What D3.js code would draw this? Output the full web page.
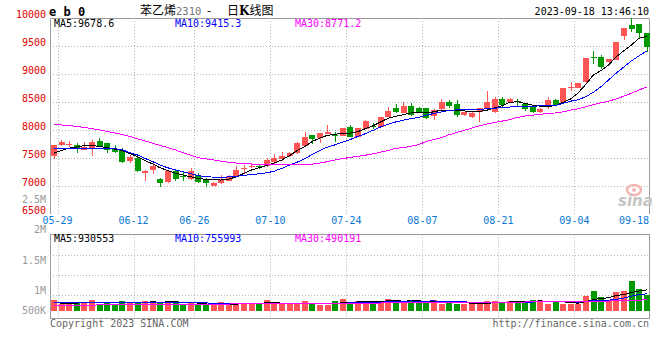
<!DOCTYPE html>
<html><head><meta charset="utf-8">
<script src="https://cdn.jsdelivr.net/npm/d3@7"></script>
<style>body{margin:0;background:#fff}svg{display:block}</style>
</head><body>
<svg id="c" width="660" height="360"></svg>
<script>
const dates = ["05-26","05-29","05-30","05-31","06-01","06-02","06-05","06-06","06-07","06-08","06-09","06-12","06-13","06-14","06-15","06-16","06-19","06-20","06-21","06-26","06-27","06-28","06-29","06-30","07-03","07-04","07-05","07-06","07-07","07-10","07-11","07-12","07-13","07-14","07-17","07-18","07-19","07-20","07-21","07-24","07-25","07-26","07-27","07-28","07-31","08-01","08-02","08-03","08-04","08-07","08-08","08-09","08-10","08-11","08-14","08-15","08-16","08-17","08-18","08-21","08-22","08-23","08-24","08-25","08-28","08-29","08-30","08-31","09-01","09-04","09-05","09-06","09-07","09-08","09-11","09-12","09-13","09-14","09-15"];
const open  = [7540,7730,7750,7730,7650,7670,7810,7775,7660,7650,7460,7500,7232,7292,7137,7083,7274,7190,7137,7196,7131,7006,7054,7101,7173,7310,7345,7355,7363,7441,7482,7548,7589,7726,7917,7869,7929,7920,7905,8054,7887,8024,8080,8065,8244,8399,8304,8440,8393,8390,8250,8375,8500,8464,8274,8232,8321,8393,8333,8560,8500,8530,8470,8423,8321,8423,8548,8512,8760,8762,8857,9310,9304,9214,9256,9684,9880,9899,9732];
const high  = [7745,7820,7815,7770,7790,7827,7870,7780,7740,7680,7560,7530,7285,7430,7155,7280,7305,7268,7320,7230,7140,7070,7200,7200,7363,7381,7411,7393,7500,7577,7607,7607,7790,7976,7920,7960,8101,7976,8050,8089,8050,8180,8137,8240,8423,8470,8512,8482,8420,8400,8380,8560,8540,8540,8330,8320,8400,8708,8600,8600,8570,8560,8470,8425,8390,8590,8560,8760,8857,8845,9290,9417,9345,9280,9580,9821,10000,9899,9732];
const low   = [7480,7720,7700,7590,7640,7550,7700,7590,7590,7420,7410,7260,7100,7220,6980,7065,7095,7101,7110,7060,6980,7000,7040,7095,7161,7232,7321,7316,7351,7399,7458,7530,7585,7726,7756,7780,7929,7798,7900,7887,7880,8020,8018,8060,8244,8304,8304,8250,8304,8200,8180,8363,8390,8244,8260,8220,8155,8390,8304,8423,8490,8423,8350,8304,8310,8381,8440,8500,8708,8755,8850,9185,9090,9200,9250,9613,9762,9625,9393];
const close = [7735,7790,7760,7680,7710,7786,7710,7640,7610,7440,7520,7280,7280,7363,7054,7274,7125,7170,7274,7071,7066,7066,7137,7185,7292,7333,7355,7345,7470,7512,7542,7589,7780,7887,7839,7952,7976,7910,8048,7887,8042,8173,8070,8232,8351,8333,8435,8274,8315,8220,8365,8512,8435,8274,8321,8304,8393,8512,8560,8452,8560,8520,8381,8333,8381,8548,8452,8750,8770,8839,9286,9296,9137,9274,9571,9821,9810,9732,9494];
const volume = [470000,320000,320000,340000,340000,470000,320000,340000,320000,430000,380000,380000,430000,380000,380000,430000,430000,250000,380000,250000,250000,250000,380000,320000,320000,340000,340000,340000,470000,300000,300000,300000,340000,430000,340000,250000,250000,430000,515000,380000,430000,430000,430000,430000,515000,430000,380000,470000,430000,430000,470000,320000,430000,320000,320000,320000,320000,430000,430000,380000,430000,430000,430000,470000,470000,320000,430000,320000,320000,320000,660000,870000,610000,440000,840000,880000,1300000,950000,690000];
const ma5  = [7590,7640,7680,7700,7726,7730,7712,7690,7665,7640,7585,7530,7460,7400,7330,7280,7235,7200,7170,7140,7125,7115,7112,7130,7165,7230,7290,7330,7370,7415,7470,7545,7635,7710,7800,7860,7910,7930,7945,7950,7975,8030,8080,8150,8215,8250,8280,8310,8315,8310,8330,8360,8360,8350,8345,8340,8335,8360,8400,8440,8500,8510,8480,8450,8430,8425,8440,8500,8560,8670,8820,8990,9066,9166,9313,9420,9523,9642,9679];
const ma10 = [7680,7675,7672,7670,7672,7676,7680,7678,7672,7655,7600,7560,7500,7440,7380,7330,7295,7262,7225,7190,7175,7163,7160,7168,7178,7195,7210,7222,7240,7270,7320,7380,7430,7490,7570,7640,7700,7740,7790,7835,7890,7940,8000,8060,8110,8150,8180,8210,8230,8270,8300,8330,8355,8365,8370,8375,8378,8382,8395,8405,8415,8425,8430,8432,8435,8440,8445,8480,8520,8545,8600,8680,8779,8900,9020,9130,9240,9330,9415];
const ma30 = [8105,8095,8085,8070,8050,8030,8006,7980,7955,7925,7890,7850,7810,7770,7730,7690,7650,7600,7555,7510,7490,7470,7450,7430,7415,7405,7398,7393,7390,7387,7385,7383,7382,7385,7395,7415,7440,7470,7495,7515,7535,7555,7580,7610,7640,7680,7690,7715,7745,7800,7835,7870,7920,7960,8000,8040,8080,8112,8140,8165,8190,8230,8255,8270,8285,8300,8310,8330,8360,8385,8420,8460,8490,8520,8560,8610,8660,8720,8771];
const volMa5  = [360000,350000,345000,350000,358000,358000,358000,362000,358000,376000,358000,370000,388000,400000,390000,400000,410000,374000,374000,348000,312000,276000,302000,290000,304000,322000,340000,332000,362000,358000,350000,342000,342000,334000,342000,332000,322000,340000,357000,365000,401000,437000,437000,420000,447000,447000,437000,445000,445000,428000,436000,424000,416000,394000,372000,342000,342000,342000,364000,376000,398000,420000,420000,428000,446000,424000,424000,402000,372000,342000,410000,498000,556000,580000,684000,728000,814000,882000,930553];
const volMa10 = [360000,358000,355000,352000,355000,360000,362000,365000,366000,367000,358000,364000,375000,379000,383000,379000,390000,381000,387000,369000,356000,343000,338000,332000,326000,317000,308000,317000,326000,331000,336000,341000,337000,348000,350000,341000,332000,341000,346000,354000,367000,380000,389000,389000,406000,424000,437000,441000,433000,438000,442000,431000,431000,420000,400000,389000,383000,379000,379000,374000,370000,381000,381000,396000,411000,411000,422000,411000,400000,394000,417000,461000,479000,476000,513000,569000,656000,719000,755993];
const volMa30 = [240000,244000,251000,254000,259000,262000,266000,267000,271000,274000,277000,279000,283000,286000,287000,291000,293000,295000,299000,300000,302000,305000,306000,307000,311000,312000,313000,316000,319000,320000,321000,325000,326000,328000,331000,333000,334000,336000,339000,341000,344000,345000,349000,352000,354000,357000,361000,363000,366000,370000,371000,373000,376000,378000,379000,382000,384000,385000,388000,390000,392000,393000,396000,398000,399000,402000,404000,405000,408000,411000,416000,425000,431000,440000,449000,461000,470000,481000,490191];
const priceTicks = [10000,9500,9000,8500,8000,7500,7000,6500];
const volTicks = [500000,1000000,1500000,2000000,2500000];
const volTickLabels = ["500K","1M","1.5M","2M","2.5M"];
const dateTicks = ["05-29","06-12","06-26","07-10","07-24","08-07","08-21","09-04","09-18"];
const legendMain = ["MA5:9678.6","MA10:9415.3","MA30:8771.2"];
const legendVol = ["MA5:930553","MA10:755993","MA30:490191"];
const maColors = ["#000000","#0000ff","#ff00ff"];

const svg = d3.select("#c");
const MONO = "'DejaVu Sans Mono', 'Liberation Mono', monospace";
const UP = "#ff5555", DOWN = "#009900", GRID = "#b4b4b4", BORDER = "#9a9a9a";

const x = d3.scaleBand().domain(dates).range([50, 650.4]);
const cx = d => x(d) + 3.8;
const tickX = t => (dates.includes(t) ? x(t) : x.range()[1]);
const y = d3.scaleLinear().domain([6500, 10000]).range([214.3, 18.3]);
const yv = d3.scaleLinear().domain([0, 1000000]).range([311, 288.3]);
const yvLabel = d3.scaleLinear().domain([1000000, 2000000]).range([294, 233]);

const main = { top: 18, bottom: 214, left: 50, right: 649 };
const vol = { top: 234.5, bottom: 318.5, left: 50, right: 649 };
const px = v => Math.round(v) + 0.5;

// grids
const g = svg.append("g");
priceTicks.slice(1, -1).forEach(p => {
  g.append("line").attr("x1", main.left).attr("x2", main.right)
    .attr("y1", px(y(p))).attr("y2", px(y(p)))
    .attr("stroke", GRID).attr("stroke-dasharray", "1,2");
});
dateTicks.slice(0, -1).forEach(t => {
  const xx = px(tickX(t));
  g.append("line").attr("x1", xx).attr("x2", xx).attr("y1", main.top).attr("y2", main.bottom)
    .attr("stroke", GRID).attr("stroke-dasharray", "1,2");
  g.append("line").attr("x1", xx).attr("x2", xx).attr("y1", vol.top).attr("y2", vol.bottom)
    .attr("stroke", GRID).attr("stroke-dasharray", "1,2");
});
d3.range(1, 4).forEach(i => {
  const yy = px(vol.top + i * 20.3);
  g.append("line").attr("x1", vol.left).attr("x2", vol.right).attr("y1", yy).attr("y2", yy)
    .attr("stroke", GRID).attr("stroke-dasharray", "1,2");
});

// borders
svg.append("path").attr("d", `M${px(main.left)},${main.bottom} V${px(main.top)} H${px(main.right)} V${main.bottom}`)
  .attr("fill", "none").attr("stroke", BORDER);
svg.append("rect").attr("x", px(vol.left)).attr("y", vol.top).attr("width", vol.right - vol.left).attr("height", vol.bottom - vol.top)
  .attr("fill", "none").attr("stroke", BORDER);

// watermark
const wm = svg.append("g");
wm.append("ellipse").attr("cx", 634).attr("cy", 190).attr("rx", 7).attr("ry", 5)
  .attr("fill", "none").attr("stroke", "#f4b4b4").attr("stroke-width", 2.5);
wm.append("circle").attr("cx", 634).attr("cy", 190).attr("r", 2).attr("fill", "#f4b4b4");
wm.append("text").attr("x", 618).attr("y", 206).attr("font-family", "'DejaVu Sans', sans-serif")
  .attr("font-size", 15).attr("font-weight", "bold").attr("font-style", "italic")
  .attr("fill", "#c4c4c4").text("sina");

// candles
const up = i => close[i] >= open[i];
const cg = svg.append("g").attr("shape-rendering", "crispEdges");
dates.forEach((d, i) => {
  const col = up(i) ? UP : DOWN;
  cg.append("line").attr("x1", px(cx(d))).attr("x2", px(cx(d)))
    .attr("y1", y(high[i])).attr("y2", y(low[i])).attr("stroke", col);
  const top = y(Math.max(open[i], close[i])), bot = y(Math.min(open[i], close[i]));
  cg.append("rect").attr("x", Math.round(x(d) + 1)).attr("width", 6)
    .attr("y", top).attr("height", Math.max(1, bot - top)).attr("fill", col);
});

// MA lines main
const lineP = arr => d3.line().x((v, i) => cx(dates[i])).y(v => y(v))(arr);
[ma5, ma10, ma30].forEach((arr, k) => {
  svg.append("path").attr("d", lineP(arr)).attr("fill", "none")
    .attr("stroke", maColors[k]).attr("stroke-width", 1).attr("shape-rendering", "crispEdges");
});

// volume bars
const vg = svg.append("g").attr("shape-rendering", "crispEdges");
dates.forEach((d, i) => {
  vg.append("rect").attr("x", Math.round(x(d) + 1)).attr("width", 6)
    .attr("y", yv(volume[i])).attr("height", yv(0) - yv(volume[i]))
    .attr("fill", up(i) ? UP : DOWN);
});
const lineV = arr => d3.line().x((v, i) => cx(dates[i])).y(v => yv(v))(arr);
[volMa5, volMa10, volMa30].forEach((arr, k) => {
  svg.append("path").attr("d", lineV(arr)).attr("fill", "none")
    .attr("stroke", maColors[k]).attr("stroke-width", 1).attr("shape-rendering", "crispEdges");
});

// axis labels
const txt = (xx, yy, s, col, anchor, size) => svg.append("text").attr("x", xx).attr("y", yy)
  .attr("font-family", MONO).attr("font-size", size || 10).attr("fill", col)
  .attr("text-anchor", anchor || "start").text(s);

priceTicks.forEach(p => txt(46, y(p), String(p), "#e00000", "end", 10));
volTicks.forEach((v, i) => txt(46, Math.min(yvLabel(v), 314), volTickLabels[i], "#999999", "end", 10));
dateTicks.forEach((t, i) => {
  const xx = tickX(t);
  const last = i === dateTicks.length - 1;
  txt(last ? main.right : xx, 224, t, "#0a78d2", last ? "end" : "middle", 10);
});

// legends
const legX = [54, 175, 295];
legendMain.forEach((s, k) => txt(legX[k], 27, s, maColors[k], "start", 10));
legendVol.forEach((s, k) => txt(legX[k], 241.5, s, maColors[k], "start", 10));

// header
svg.append("text").attr("x", 49).attr("y", 16).attr("font-family", MONO).attr("font-size", 12)
  .attr("font-weight", "bold").attr("fill", "#000").text("e b 0");
const title = svg.append("text").attr("x", 140).attr("y", 15).attr("font-size", 12)
  .attr("font-family", "'Noto Sans CJK SC', sans-serif").attr("fill", "#000");
title.append("tspan").text("苯乙烯");
title.append("tspan").attr("fill", "#777").attr("font-family", MONO).attr("font-size", 10.5).text("2310");
title.append("tspan").attr("x", 207).text("-");
title.append("tspan").attr("x", 227).text("日");
title.append("tspan").attr("font-weight", "bold").attr("font-family", "'DejaVu Serif', serif").text("K");
title.append("tspan").attr("font-weight", "normal").text("线图");
txt(649, 15, "2023-09-18 13:46:10", "#000", "end", 10);

// footer
txt(50, 327, "Copyright 2023 SINA.COM", "#666", "start", 10);
txt(649, 327, "http://finance.sina.com.cn", "#666", "end", 10);
</script>
</body></html>
